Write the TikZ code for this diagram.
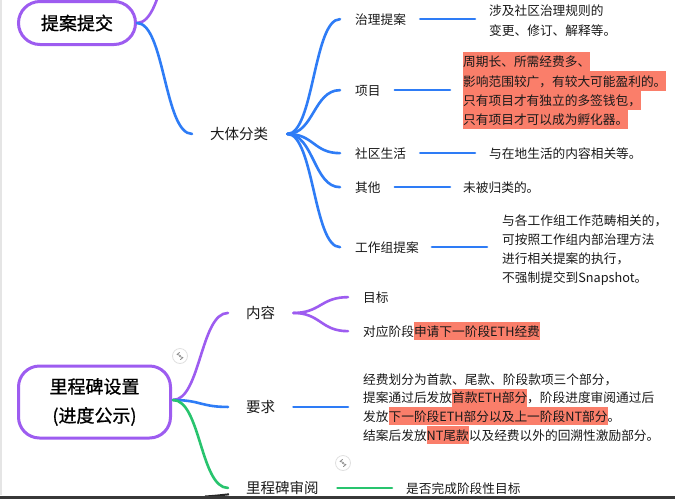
\documentclass[tikz,border=0pt]{standalone}
\usepackage{fontspec}
\setmainfont{Noto Sans CJK SC}
\newfontfamily\mmtitlefont[FakeBold=0.9]{Noto Sans CJK SC}
\usetikzlibrary{calc}
\definecolor{mmpurple}{RGB}{157,92,240}
\definecolor{mmblue}{RGB}{46,124,246}
\definecolor{mmgreen}{RGB}{40,196,110}
\definecolor{mmhl}{RGB}{250,126,106}
\definecolor{mmtext}{RGB}{26,26,26}
\newcommand\mmhlA[1]{{\setlength{\fboxsep}{0pt}\colorbox{mmhl}{\rule[-4.5pt]{0pt}{19.3pt}#1}}}
\newcommand\mmhlB[1]{{\setlength{\fboxsep}{0pt}\colorbox{mmhl}{\rule[-4pt]{0pt}{18pt}#1}}}
\newcommand\mmc[3][]{\draw[conn,#1] (#2) .. controls ($(#2)!.5!(#2 -| #3)$) and ($(#3)!.5!(#3 -| #2)$) .. (#3);}
\tikzset{
  conn/.style={line width=2.6pt, line cap=round},
  titlebox/.style={draw=mmpurple, line width=3pt, inner sep=0pt, text=black,
    font=\mmtitlefont\fontsize{18}{29}\selectfont},
  lvtwo/.style={font=\fontsize{14.5}{18}\selectfont, inner sep=0pt, anchor=base west,
    text height=12.8pt, text depth=1.7pt, text=mmtext},
  lvthree/.style={font=\fontsize{12.7}{19}\selectfont, inner sep=0pt, anchor=base west,
    text height=11.2pt, text depth=1.5pt, text=mmtext},
  para/.style={font=\fontsize{12.7}{19}\selectfont, inner sep=0pt, anchor=base west, text=mmtext},
  badge/.style={circle, minimum size=15pt, inner sep=0pt, draw=black!12, line width=0.8pt, fill=white},
}
\begin{document}
\begin{tikzpicture}[x=1pt,y=-1pt]
\useasboundingbox (0,0) rectangle (675,499);
\clip (0,0) rectangle (675,499);
\fill[white] (0,0) rectangle (675,499);
\draw[black!10, line width=1.5pt] (0.75,0) -- (0.75,495);

% ---------- upper part ----------
\node[titlebox, minimum width=117pt, minimum height=43pt, rounded corners=21.5pt] (tb) at (77,23) {提案提交};
\node[lvtwo] (dt) at (210,139.5) {大体分类};

\node[lvthree] (zl) at (355,24) {治理提案};
\node[para] (zlt) at (489,15) {\vtop{\baselineskip=20pt \hbox{涉及社区治理规则的}\hbox{变更、修订、解释等。}}};

\node[lvthree] (xm) at (355,95) {项目};
\node[para] (xmt) at (463,66.8) {\vtop{\baselineskip=19.3pt
  \hbox{\mmhlA{周期长、所需经费多、}}
  \hbox{\mmhlA{影响范围较广，有较大可能盈利的。}}
  \hbox{\mmhlA{只有项目才有独立的多签钱包，}}
  \hbox{\mmhlA{只有项目才可以成为孵化器。}}}};

\node[lvthree] (sq) at (355,158) {社区生活};
\node[lvthree] (sqt) at (489,158) {与在地生活的内容相关等。};

\node[lvthree] (qt) at (355,192) {其他};
\node[lvthree] (qtt) at (463,192) {未被归类的。};

\node[lvthree] (gz) at (355,252) {工作组提案};
\node[para] (gzt) at (502,225) {\vtop{\baselineskip=19pt
  \hbox{与各工作组工作范畴相关的，}
  \hbox{可按照工作组内部治理方法}
  \hbox{进行相关提案的执行，}
  \hbox{不强制提交到Snapshot。}}};

\coordinate (tbup) at (195,-85);
\coordinate (dtL) at ($(dt.west)+(-18,0)$);
\coordinate (dtR) at ($(dt.east)+(19,0)$);
\coordinate (zlL) at ($(zl.west)+(-15,0)$);
\coordinate (xmL) at ($(xm.west)+(-15,0)$);
\coordinate (sqL) at ($(sq.west)+(-15,0)$);
\coordinate (qtL) at ($(qt.west)+(-15,0)$);
\coordinate (gzL) at ($(gz.west)+(-15,0)$);

\mmc[mmpurple]{tb.east}{tbup}
\mmc[mmblue]{tb.east}{dtL}
\mmc[mmblue]{dtR}{zlL}
\mmc[mmblue]{dtR}{xmL}
\mmc[mmblue]{dtR}{sqL}
\mmc[mmblue]{dtR}{qtL}
\mmc[mmblue]{dtR}{gzL}

\draw[conn, mmblue, shorten <=14pt, shorten >=14pt] (zl.east) -- (zl.east -| zlt.west);
\draw[conn, mmblue, shorten <=14pt, shorten >=13pt] (xm.east) -- (xm.east -| xmt.west);
\draw[conn, mmblue, shorten <=14pt, shorten >=14pt] (sq.east) -- (sq.east -| sqt.west);
\draw[conn, mmblue, shorten <=14pt, shorten >=13pt] (qt.east) -- (qt.east -| qtt.west);
\draw[conn, mmblue, shorten <=13pt, shorten >=15pt] (gz.east) -- (gz.east -| gzt.west);

% ---------- lower part ----------
\node[titlebox, minimum width=152pt, minimum height=72pt, rounded corners=21pt, align=center] (ms) at (94.5,402) {里程碑设置\\(进度公示)};

\node[lvtwo] (nr) at (246,318.5) {内容};
\node[lvtwo] (yq) at (246,412.5) {要求};
\node[lvtwo] (sy) at (246,493.5) {里程碑审阅};

\node[lvthree] (mb) at (363,302) {目标};
\node[lvthree] (dy) at (363,336) {对应阶段\mmhlB{申请下一阶段ETH经费}};

\node[para] (yqt) at (363,384) {\vtop{\baselineskip=18.7pt
  \hbox{经费划分为首款、尾款、阶段款项三个部分，}
  \hbox{提案通过后发放\mmhlB{首款ETH部分}，阶段进度审阅通过后}
  \hbox{发放\mmhlB{下一阶段ETH部分以及上一阶段NT部分}。}
  \hbox{结案后发放\mmhlB{NT尾款}以及经费以外的回溯性激励部分。}}};

\node[lvthree] (sft) at (406,493) {是否完成阶段性目标};

\coordinate (msR) at ($(ms.east)+(1,-2)$);
\coordinate (nrL) at ($(nr.west)+(-18,0)$);
\coordinate (yqL) at ($(yq.west)+(-18,0)$);
\coordinate (syL) at ($(sy.west)+(-18,0)$);
\coordinate (nrR) at ($(nr.east)+(18,0)$);
\coordinate (mbL) at ($(mb.west)+(-15,0)$);
\coordinate (dyL) at ($(dy.west)+(-15,0)$);

\mmc[mmpurple]{msR}{nrL}
\mmc[mmblue]{msR}{yqL}
\mmc[mmgreen]{msR}{syL}
\mmc[mmpurple]{nrR}{mbL}
\mmc[mmpurple]{nrR}{dyL}

\draw[conn, mmblue, shorten <=18pt, shorten >=15pt] (yq.east) -- (yq.east -| yqt.west);
\draw[conn, mmgreen, shorten <=18.5pt, shorten >=14pt] (sy.east) -- (sy.east -| sft.west);

% collapse badges
\node[badge] (bd1) at (180,356) {};
\node[badge] (bd2) at (343,463) {};
\foreach \b in {bd1,bd2}{
  \draw[black!45, line width=0.8pt, line cap=round, line join=round]
    ($(\b)+(-0.5,-3.5)$) -- ($(\b)+(-3,-1.5)$) -- ($(\b)+(0.5,-0.5)$);
  \draw[black!45, line width=0.8pt, line cap=round, line join=round]
    ($(\b)+(-0.5,0.5)$) -- ($(\b)+(3,1.5)$) -- ($(\b)+(0.5,3.5)$);
}

% partial dark connector and bottom edge
\coordinate (dk1) at (205,496.5);
\coordinate (dk2) at (229,494.3);
\draw[line width=2pt, black!85] (dk1) .. controls (215,495.8) .. (dk2);
\fill[black!78] (0,495.5) rectangle (675,499);
\end{tikzpicture}
\end{document}
